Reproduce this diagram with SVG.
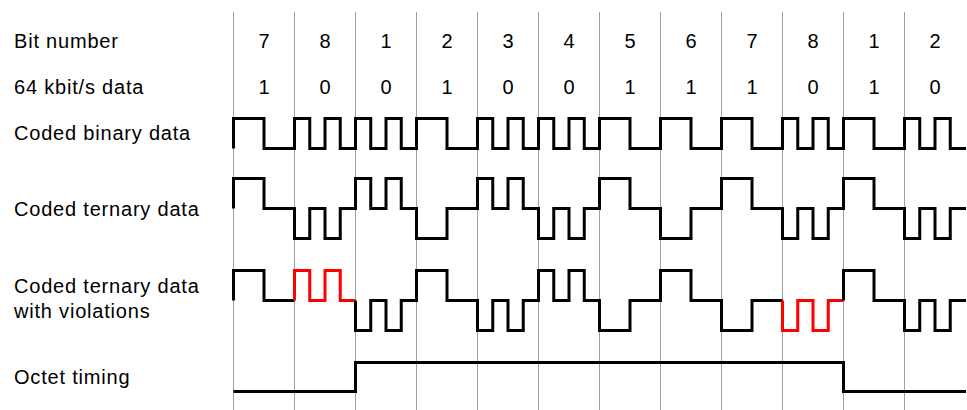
<svg xmlns="http://www.w3.org/2000/svg" width="967" height="410" viewBox="0 0 967 410">
<style>
text{font-family:"Liberation Sans",Arial,sans-serif;font-size:20px;fill:#000}
.lbl{letter-spacing:0.8px}
.num{text-anchor:middle}
.grid line{stroke:#a0a0a0;stroke-width:1}
.w{fill:none;stroke:#000;stroke-width:3;stroke-linejoin:miter;stroke-linecap:butt}
.v{stroke:#ff0000}
</style>
<rect width="967" height="410" fill="#fff"/>
<g id="grid" class="grid">
<line x1="233.5" y1="12" x2="233.5" y2="410"/>
<line x1="294.5" y1="12" x2="294.5" y2="410"/>
<line x1="355.5" y1="12" x2="355.5" y2="410"/>
<line x1="416.5" y1="12" x2="416.5" y2="410"/>
<line x1="477.5" y1="12" x2="477.5" y2="410"/>
<line x1="538.5" y1="12" x2="538.5" y2="410"/>
<line x1="599.5" y1="12" x2="599.5" y2="410"/>
<line x1="660.5" y1="12" x2="660.5" y2="410"/>
<line x1="721.5" y1="12" x2="721.5" y2="410"/>
<line x1="782.5" y1="12" x2="782.5" y2="410"/>
<line x1="843.5" y1="12" x2="843.5" y2="410"/>
<line x1="904.5" y1="12" x2="904.5" y2="410"/>
</g>
<g id="labels">
<text class="lbl" x="14" y="48">Bit number</text>
<text class="lbl" x="14" y="94">64 kbit/s data</text>
<text class="lbl" x="14" y="140">Coded binary data</text>
<text class="lbl" x="14" y="216">Coded ternary data</text>
<text class="lbl" x="14" y="293">Coded ternary data</text>
<text class="lbl" x="14" y="318">with violations</text>
<text class="lbl" x="14" y="384">Octet timing</text>
</g>
<g id="bitnumbers" class="num">
<text class="num" x="264" y="48">7</text>
<text class="num" x="325" y="48">8</text>
<text class="num" x="386" y="48">1</text>
<text class="num" x="447" y="48">2</text>
<text class="num" x="508" y="48">3</text>
<text class="num" x="569" y="48">4</text>
<text class="num" x="630" y="48">5</text>
<text class="num" x="691" y="48">6</text>
<text class="num" x="752" y="48">7</text>
<text class="num" x="813" y="48">8</text>
<text class="num" x="874" y="48">1</text>
<text class="num" x="935" y="48">2</text>
</g>
<g id="data">
<text class="num" x="264" y="94">1</text>
<text class="num" x="325" y="94">0</text>
<text class="num" x="386" y="94">0</text>
<text class="num" x="447" y="94">1</text>
<text class="num" x="508" y="94">0</text>
<text class="num" x="569" y="94">0</text>
<text class="num" x="630" y="94">1</text>
<text class="num" x="691" y="94">1</text>
<text class="num" x="752" y="94">1</text>
<text class="num" x="813" y="94">0</text>
<text class="num" x="874" y="94">1</text>
<text class="num" x="935" y="94">0</text>
</g>
<g id="binary">
<path class="w" d="M233.5,148.5 V118.5 H264 V148.5 H294.5 V118.5 H309.75 V148.5 H325 V118.5 H340.25 V148.5 H355.5 V118.5 H370.75 V148.5 H386 V118.5 H401.25 V148.5 H416.5 V118.5 H447 V148.5 H477.5 V118.5 H492.75 V148.5 H508 V118.5 H523.25 V148.5 H538.5 V118.5 H553.75 V148.5 H569 V118.5 H584.25 V148.5 H599.5 V118.5 H630 V148.5 H660.5 V118.5 H691 V148.5 H721.5 V118.5 H752 V148.5 H782.5 V118.5 H797.75 V148.5 H813 V118.5 H828.25 V148.5 H843.5 V118.5 H874 V148.5 H904.5 V118.5 H919.75 V148.5 H935 V118.5 H950.25 V148.5 H966"/>
</g>
<g id="ternary">
<path class="w" d="M233.5,208.5 V178.5 H264 V208.5 H294.5 V238.5 H309.75 V208.5 H325 V238.5 H340.25 V208.5 H355.5 V178.5 H370.75 V208.5 H386 V178.5 H401.25 V208.5 H416.5 V238.5 H447 V208.5 H477.5 V178.5 H492.75 V208.5 H508 V178.5 H523.25 V208.5 H538.5 V238.5 H553.75 V208.5 H569 V238.5 H584.25 V208.5 H599.5 V178.5 H630 V208.5 H660.5 V238.5 H691 V208.5 H721.5 V178.5 H752 V208.5 H782.5 V238.5 H797.75 V208.5 H813 V238.5 H828.25 V208.5 H843.5 V178.5 H874 V208.5 H904.5 V238.5 H919.75 V208.5 H935 V238.5 H950.25 V208.5 H966"/>
</g>
<g id="violations">
<path class="w" d="M233.5,300.5 V270.5 H264 V300.5 H294.5"/>
<path class="w v" d="M294.5,300.5 V270.5 H309.75 V300.5 H325 V270.5 H340.25 V300.5 H355.5"/>
<path class="w" d="M355.5,300.5 V330.5 H370.75 V300.5 H386 V330.5 H401.25 V300.5 H416.5 V270.5 H447 V300.5 H477.5 V330.5 H492.75 V300.5 H508 V330.5 H523.25 V300.5 H538.5 V270.5 H553.75 V300.5 H569 V270.5 H584.25 V300.5 H599.5 V330.5 H630 V300.5 H660.5 V270.5 H691 V300.5 H721.5 V330.5 H752 V300.5 H782.5"/>
<path class="w v" d="M782.5,300.5 V330.5 H797.75 V300.5 H813 V330.5 H828.25 V300.5 H843.5"/>
<path class="w" d="M843.5,300.5 V270.5 H874 V300.5 H904.5 V330.5 H919.75 V300.5 H935 V330.5 H950.25 V300.5 H966"/>
</g>
<g id="octet">
<path class="w" d="M233.5,391.5 H355.5 V362.5 H843.5 V391.5 H966"/>
</g>
</svg>
